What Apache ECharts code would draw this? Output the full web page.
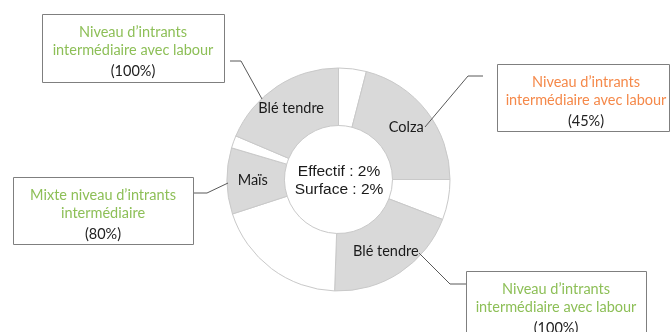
<!DOCTYPE html>
<html>
<head>
<meta charset="utf-8">
<script src="https://cdn.jsdelivr.net/npm/echarts@6/dist/echarts.min.js"></script>
<style>
  html, body { margin: 0; padding: 0; background: #fff; }
  #chart { width: 670px; height: 332px; }
</style>
</head>
<body>
<div id="chart"></div>
<script>
// segments clockwise from 12 o'clock (angle share in degrees)
const segNames = ['', 'Colza', '', 'Blé tendre', '', 'Maïs', '', 'Blé tendre'];
const segValues = [14.5, 75.5, 21, 71, 70, 34.5, 6.5, 67];
const centerLines = ['Effectif : 2%', 'Surface : 2%'];
// callouts: title lines and share
const calloutTitles = [
  ['Niveau d’intrants', 'intermédiaire avec labour'],
  ['Niveau d’intrants', 'intermédiaire avec labour'],
  ['Mixte niveau d’intrants', 'intermédiaire'],
  ['Niveau d’intrants', 'intermédiaire avec labour']
];
const calloutShares = ['(100%)', '(45%)', '(80%)', '(100%)'];
const calloutColors = ['#8dbf57', '#f5894a', '#8dbf57', '#8dbf57'];

// box geometry for each callout [left, top, width, height] and leader polyline
const boxes = [
  [42, 14, 182, 68],
  [497, 64, 172, 67],
  [13, 177, 180, 67],
  [466, 271, 180, 70]
];
const leaders = [
  [[230, 61], [241, 61], [262, 99]],
  [[483, 76], [468, 76], [425, 127]],
  [[193, 193], [207, 193], [228, 183]],
  [[419, 253], [450, 284], [466, 284]]
];

const chart = echarts.init(document.getElementById('chart'));

const graphics = [];
boxes.forEach((b, i) => {
  graphics.push({
    type: 'rect',
    shape: { x: b[0] + 0.5, y: b[1] + 0.5, width: b[2], height: b[3] },
    style: { fill: '#fff', stroke: '#7f7f7f', lineWidth: 1 },
    z: 10
  });
  const cx = b[0] + b[2] / 2 + (i === 1 ? 3 : 0);
  calloutTitles[i].forEach((t, k) => {
    graphics.push({
      type: 'text', x: cx, y: b[1] + 18 + k * 18, z: 11,
      style: { text: t, fill: calloutColors[i], font: '14.5px Lato', align: 'center', verticalAlign: 'middle' }
    });
  });
  graphics.push({
    type: 'text', x: cx, y: b[1] + 18 + 2 * 19.5, z: 11,
    style: { text: calloutShares[i], fill: '#222', font: '14.5px Lato', align: 'center', verticalAlign: 'middle' }
  });
});
leaders.forEach(p => {
  graphics.push({
    type: 'polyline', z: 9,
    shape: { points: p },
    style: { stroke: '#595959', lineWidth: 1, fill: null }
  });
});
centerLines.forEach((t, k) => {
  graphics.push({
    type: 'text', x: 339, y: 172 + k * 18, z: 11,
    style: { text: t, fill: '#1a1a1a', font: '15.5px "Liberation Sans"', align: 'center', verticalAlign: 'middle' }
  });
});

chart.setOption({
  animation: false,
  backgroundColor: '#fff',
  series: [{
    type: 'pie',
    center: [338.5, 179.5],
    radius: [54, 111.5],
    startAngle: 90,
    clockwise: true,
    avoidLabelOverlap: false,
    itemStyle: { borderColor: '#c9c9c9', borderWidth: 1 },
    label: {
      show: true,
      position: 'inside',
      color: '#1a1a1a',
      fontFamily: 'Lato',
      fontSize: 14.5,
      formatter: p => p.name
    },
    labelLine: { show: false },
    emphasis: { disabled: true },
    data: segValues.map((v, i) => ({
      name: segNames[i],
      value: v,
      itemStyle: { color: segNames[i] ? '#d9d9d9' : '#ffffff' }
    }))
  }],
  graphic: graphics
});
</script>
</body>
</html>
